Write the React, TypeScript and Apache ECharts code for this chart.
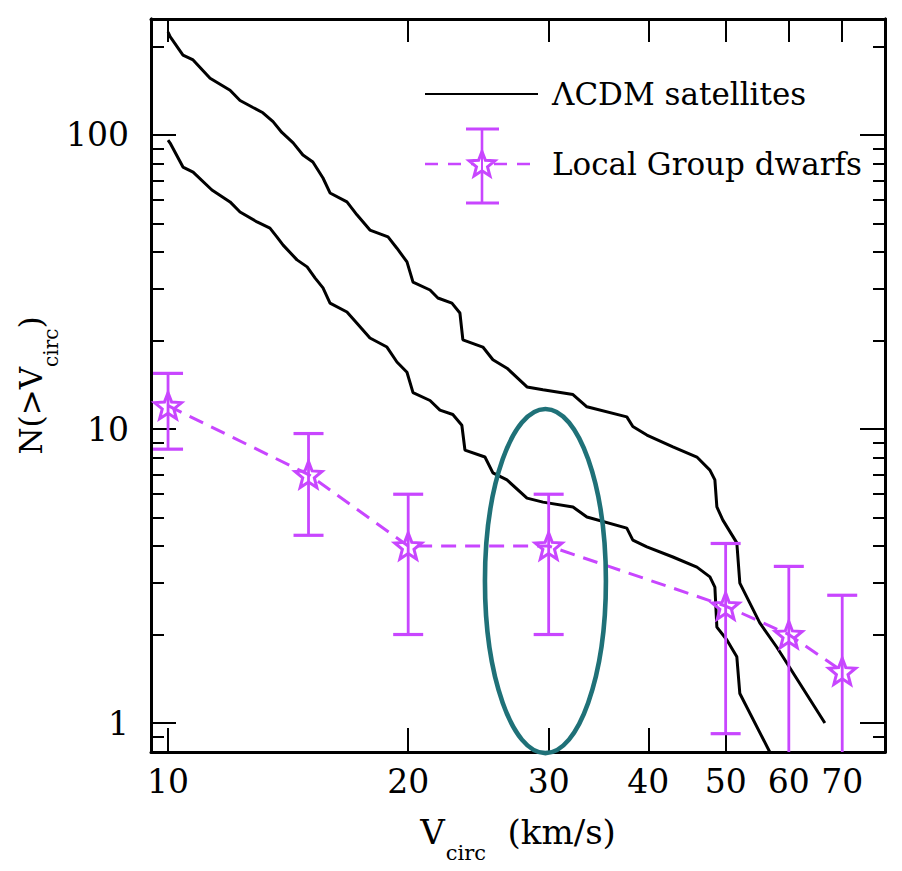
import React, { useEffect, useRef } from 'react';
import * as echarts from 'echarts';

// ---------- data ----------
const lcdmUpperV = [10.0, 10.06, 10.44, 10.75, 11.29, 11.96, 12.31, 12.78, 13.15, 13.54, 13.89, 14.35, 14.76, 15.19, 15.64, 15.96, 16.76, 17.25, 17.91, 18.87, 19.36, 19.93, 20.28, 21.30, 21.79, 22.69, 23.22, 23.42, 24.81, 25.54, 26.60, 28.18, 29.51, 32.18, 33.50, 37.59, 38.25, 39.83, 42.94, 46.02, 47.78, 48.47, 48.75, 49.60, 51.64, 52.09, 55.18, 57.96, 66.58];
const lcdmUpperN = [224, 216, 187, 180, 156, 142, 131, 124, 119, 111, 102, 94, 85.5, 80.9, 71.4, 63.5, 59.2, 53.5, 47.5, 45.0, 41.2, 37.0, 31.6, 29.7, 27.9, 26.8, 24.8, 20.1, 19.0, 17.2, 16.1, 13.9, 13.6, 13.1, 11.9, 11.0, 10.2, 9.54, 8.69, 8.03, 7.25, 6.71, 5.43, 4.90, 4.10, 2.99, 2.19, 1.81, 1.00];

const lcdmLowerV = [10.0, 10.06, 10.44, 10.75, 11.35, 11.96, 12.31, 12.93, 13.42, 13.69, 13.94, 14.51, 14.94, 15.29, 15.64, 15.96, 16.76, 17.25, 17.91, 18.81, 19.36, 19.93, 20.28, 21.30, 21.92, 22.75, 23.35, 23.56, 24.96, 25.54, 26.60, 28.18, 29.51, 32.18, 33.50, 37.59, 38.25, 39.83, 42.94, 46.02, 47.78, 48.47, 48.75, 50.16, 51.64, 52.09, 56.79];
const lcdmLowerN = [96.1, 93.9, 77.8, 74.8, 65.0, 59.2, 54.7, 50.6, 48.2, 45.0, 42.2, 37.6, 35.6, 32.6, 30.2, 26.8, 25.0, 22.9, 20.4, 19.0, 16.9, 15.6, 13.3, 12.5, 11.6, 11.2, 10.3, 8.48, 8.03, 7.09, 6.71, 5.82, 5.64, 5.43, 5.02, 4.60, 4.19, 3.97, 3.67, 3.39, 3.14, 2.90, 2.12, 1.92, 1.68, 1.26, 0.797];

const dwarfV = [10, 15, 20, 30, 50, 60, 70];
const dwarfN = [12, 7, 4, 4, 2.5, 2, 1.5];
const dwarfLow = [8.54, 4.35, 2.0, 2.0, 0.92, 0.59, 0.28];
const dwarfHigh = [15.46, 9.65, 6.0, 6.0, 4.08, 3.41, 2.72];

// highlighted region (ellipse) bounds in data units
const highlightV = [24.96, 35.39];
const highlightN = [0.79, 11.7];

const xTickValues = [10, 20, 30, 40, 50, 60, 70];
const yMajorValues = [1, 10, 100];
const yMinorValues = [0.9, 2, 3, 4, 5, 6, 7, 8, 9, 20, 30, 40, 50, 60, 70, 80, 90, 200];

const X_MIN = 9.52;
const X_MAX = 79.2;
const Y_MIN = 0.797;
const Y_MAX = 248;

const LEGEND_LCDM = 'ΛCDM satellites';
const LEGEND_DWARFS = 'Local Group dwarfs';

// ---------- styles ----------
const FONT = '"DejaVu Serif", serif';
const MAG = '#c846ff';
const TEAL = '#1f7178';

function starPoints(cx: number, cy: number, R: number, r: number): number[][] {
  const pts: number[][] = [];
  for (let i = 0; i < 10; i++) {
    const ang = (-90 + i * 36) * Math.PI / 180;
    const rad = i % 2 === 0 ? R : r;
    pts.push([cx + rad * Math.cos(ang), cy + rad * Math.sin(ang)]);
  }
  return pts;
}

const starSymbol = 'path://' + starPoints(0, 0, 10, 4.3)
  .map((p, i) => (i === 0 ? 'M' : 'L') + p[0].toFixed(2) + ',' + p[1].toFixed(2))
  .join('') + 'Z';

const pairs = (a: number[], b: number[]) => a.map((v, i) => [v, b[i]]);

export default function App() {
  const ref = useRef<HTMLDivElement>(null);

  useEffect(() => {
    if (!ref.current) return;
    const chart = echarts.init(ref.current, undefined, { renderer: 'svg' });

    const axisLine = { show: true, onZero: false, lineStyle: { color: '#000', width: 3 } };
    const tickLine = { color: '#000', width: 2 };
    const richY = {
      m: { fontFamily: FONT, fontSize: 31, lineHeight: 36, verticalAlign: 'top', color: '#000' },
      s: { fontFamily: FONT, fontSize: 20, lineHeight: 20, padding: [26, 0, 0, 0], verticalAlign: 'top', color: '#000' },
    };
    const richX = {
      m: { fontFamily: FONT, fontSize: 34, lineHeight: 38, verticalAlign: 'top', color: '#000' },
      s: { fontFamily: FONT, fontSize: 21, lineHeight: 21, padding: [27, 0, 0, 1], verticalAlign: 'top', color: '#000' },
    };

    const xCommon = {
      type: 'log',
      logBase: 10,
      min: X_MIN,
      max: X_MAX,
      axisLine,
      splitLine: { show: false },
      minorTick: { show: false },
      minorSplitLine: { show: false },
    };
    const yCommon = {
      type: 'log',
      logBase: 10,
      min: Y_MIN,
      max: Y_MAX,
      axisLine,
      splitLine: { show: false },
      minorTick: { show: false },
      minorSplitLine: { show: false },
    };

    const option: any = {
      animation: false,
      backgroundColor: '#fff',
      grid: { left: 151, top: 19, width: 734, height: 733, containLabel: false, outerBoundsMode: 'none' },
      xAxis: [
        {
          ...xCommon,
          position: 'bottom',
          axisTick: { show: true, inside: true, length: 24, customValues: xTickValues, lineStyle: tickLine },
          axisLabel: { show: true, customValues: xTickValues, color: '#000', fontFamily: FONT, fontSize: 33, margin: 13 },
          name: '{m|V}{s|circ}{m|  (km/s)}',
          nameLocation: 'middle',
          nameGap: 63,
          nameMoveOverlap: false,
          nameTextStyle: { color: '#000', fontFamily: FONT, fontSize: 34, rich: richX },
        },
        {
          ...xCommon,
          position: 'top',
          axisTick: { show: true, inside: true, length: 23, customValues: xTickValues, lineStyle: tickLine },
          axisLabel: { show: false },
        },
      ],
      yAxis: [
        {
          ...yCommon,
          position: 'left',
          axisTick: { show: true, inside: true, length: 25, customValues: yMajorValues, lineStyle: tickLine },
          axisLabel: { show: true, customValues: yMajorValues, color: '#000', fontFamily: FONT, fontSize: 33, margin: 22 },
          name: '{m|N(>V}{s|circ}{m|)}',
          nameLocation: 'middle',
          nameGap: 100,
          nameMoveOverlap: false,
          nameTextStyle: { color: '#000', fontFamily: FONT, fontSize: 31, rich: richY },
        },
        {
          ...yCommon,
          position: 'left',
          axisTick: { show: true, inside: true, length: 13, customValues: yMinorValues, lineStyle: tickLine },
          axisLabel: { show: false },
        },
        {
          ...yCommon,
          position: 'right',
          axisTick: { show: true, inside: true, length: 25, customValues: yMajorValues, lineStyle: tickLine },
          axisLabel: { show: false },
        },
        {
          ...yCommon,
          position: 'right',
          axisTick: { show: true, inside: true, length: 12, customValues: yMinorValues, lineStyle: tickLine },
          axisLabel: { show: false },
        },
      ],
      series: [
        {
          name: LEGEND_LCDM,
          type: 'line',
          xAxisIndex: 0,
          yAxisIndex: 0,
          data: pairs(lcdmUpperV, lcdmUpperN),
          showSymbol: false,
          symbol: 'none',
          clip: true,
          lineStyle: { color: '#000', width: 3 },
          z: 2,
        },
        {
          name: LEGEND_LCDM,
          type: 'line',
          xAxisIndex: 0,
          yAxisIndex: 0,
          data: pairs(lcdmLowerV, lcdmLowerN),
          showSymbol: false,
          symbol: 'none',
          clip: true,
          lineStyle: { color: '#000', width: 3 },
          z: 2,
        },
        {
          name: LEGEND_DWARFS + ' errors',
          type: 'custom',
          xAxisIndex: 0,
          yAxisIndex: 0,
          clip: true,
          data: dwarfV.map((v, i) => [v, dwarfLow[i], dwarfHigh[i]]),
          encode: { x: 0, y: [1, 2] },
          renderItem: (params: any, api: any) => {
            const x = api.value(0);
            const pLo = api.coord([x, api.value(1)]);
            const pHi = api.coord([x, api.value(2)]);
            const cw = 15;
            const st = { stroke: MAG, lineWidth: 2.8 };
            return {
              type: 'group',
              children: [
                { type: 'line', shape: { x1: pHi[0], y1: pHi[1], x2: pLo[0], y2: pLo[1] }, style: st },
                { type: 'line', shape: { x1: pHi[0] - cw, y1: pHi[1], x2: pHi[0] + cw, y2: pHi[1] }, style: { ...st, lineWidth: 3.2 } },
                { type: 'line', shape: { x1: pLo[0] - cw, y1: pLo[1], x2: pLo[0] + cw, y2: pLo[1] }, style: { ...st, lineWidth: 3.2 } },
              ],
            };
          },
          z: 3,
        },
        {
          name: LEGEND_DWARFS,
          type: 'line',
          xAxisIndex: 0,
          yAxisIndex: 0,
          data: pairs(dwarfV, dwarfN),
          symbol: starSymbol,
          symbolSize: [27, 26],
          showSymbol: true,
          clip: true,
          lineStyle: { color: MAG, width: 3, type: [15, 9] },
          itemStyle: { color: 'rgba(255,255,255,0)', borderColor: MAG, borderWidth: 3 },
          z: 4,
        },
        {
          name: 'highlight',
          type: 'custom',
          xAxisIndex: 0,
          yAxisIndex: 0,
          clip: false,
          data: [[highlightV[0], highlightV[1], highlightN[0], highlightN[1]]],
          encode: { x: [0, 1], y: [2, 3] },
          renderItem: (params: any, api: any) => {
            const pTL = api.coord([api.value(0), api.value(3)]);
            const pBR = api.coord([api.value(1), api.value(2)]);
            return {
              type: 'ellipse',
              shape: {
                cx: (pTL[0] + pBR[0]) / 2,
                cy: (pTL[1] + pBR[1]) / 2,
                rx: Math.abs(pBR[0] - pTL[0]) / 2,
                ry: Math.abs(pBR[1] - pTL[1]) / 2,
              },
              style: { fill: 'none', stroke: TEAL, lineWidth: 4.6 },
            };
          },
          z: 5,
        },
      ],
      graphic: [
        // legend entry 1
        { type: 'line', z: 100, shape: { x1: 425, y1: 94, x2: 538, y2: 94 }, style: { stroke: '#000', lineWidth: 2.2 } },
        {
          type: 'text', z: 100, x: 552, y: 94,
          style: { text: LEGEND_LCDM, fontFamily: FONT, fontSize: 31, fill: '#000', verticalAlign: 'middle', align: 'left' },
        },
        // legend entry 2
        { type: 'line', z: 100, shape: { x1: 425, y1: 164, x2: 530, y2: 164 }, style: { stroke: MAG, lineWidth: 2.6, lineDash: [13, 10] } },
        { type: 'line', z: 100, shape: { x1: 482, y1: 129, x2: 482, y2: 203 }, style: { stroke: MAG, lineWidth: 2.6 } },
        { type: 'line', z: 100, shape: { x1: 466, y1: 129, x2: 499, y2: 129 }, style: { stroke: MAG, lineWidth: 3.2 } },
        { type: 'line', z: 100, shape: { x1: 466, y1: 203, x2: 499, y2: 203 }, style: { stroke: MAG, lineWidth: 3.2 } },
        {
          type: 'polygon', z: 101,
          shape: { points: starPoints(482, 165, 13.5, 5.8) },
          style: { fill: '#fff', stroke: MAG, lineWidth: 3 },
        },
        { type: 'line', z: 102, shape: { x1: 482, y1: 152, x2: 482, y2: 176 }, style: { stroke: MAG, lineWidth: 2 } },
        {
          type: 'text', z: 100, x: 552, y: 164,
          style: { text: LEGEND_DWARFS, fontFamily: FONT, fontSize: 31, fill: '#000', verticalAlign: 'middle', align: 'left' },
        },
      ],
    };

    chart.setOption(option);
    return () => chart.dispose();
  }, []);

  return (
    <div
      ref={ref}
      style={{ position: 'fixed', left: 0, top: 0, width: 902, height: 871, background: '#fff' }}
    />
  );
}
